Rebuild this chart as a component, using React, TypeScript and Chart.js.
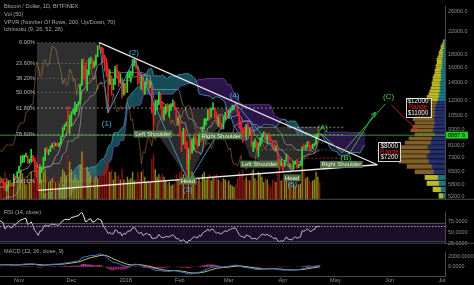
import React, { useEffect, useRef } from 'react';
import { Chart, registerables } from 'chart.js';

Chart.register(...registerables);

const FONT = '"Liberation Sans", Arial, Helvetica, sans-serif';

// ---------- price data: index 0 = 2017-08-30, one entry per day up to 2018-04-22 ----------
const firstOpen = 4570;
const closes = [
  4580, 4740,
  4920, 4590, 4600, 4230, 4400, 4640, 4650, 4320, 4320, 4230,
  4210, 4170, 3870, 3240, 3700, 3700, 3700, 4100, 3910, 3900,
  3630, 3610, 3790, 3680, 3930, 3890, 4200, 4190, 4160, 4340,
  4400, 4410, 4310, 4220, 4320, 4370, 4440, 4610, 4770, 4760,
  4820, 5440, 5650, 5830, 5690, 5760, 5600, 5570, 5710, 6000,
  6010, 6000, 5900, 5510, 5750, 5900, 5780, 5750, 6150, 6130, 6450,
  6750, 7030, 7150, 7380, 7400, 6980, 7120, 7450, 7140, 6600,
  6350, 5900, 6550, 6600, 7280, 7850, 7700, 7780, 8030, 8200,
  8100, 8230, 8100, 8250, 8750, 9300, 9700, 9900, 9850, 9950,
  10850, 10900, 11250, 11600, 11650, 13750, 16850, 16100, 14800, 15000,
  16700, 17150, 16300, 16400, 17600, 19300, 19100, 18900, 17500, 16500,
  15500, 13900, 14500, 13700, 13800, 15800, 15400, 14200, 14500, 12600, 13900,
  13400, 14800, 15100, 15200, 17000, 17100, 16100, 14900, 14400, 14900,
  13200, 13800, 14200, 13600, 13600, 11400, 11200, 11400, 11600, 12800,
  11600, 10900, 11000, 11400, 11200, 11200, 11500, 11800, 11300, 10100, 10200,
  9100, 8850, 9200, 8200, 6900, 7700, 7600, 8250, 8700, 8550,
  8100, 8900, 8550, 9500, 10000, 10200, 11100, 10400, 11150, 11200,
  10450, 9850, 10150, 9700, 9650, 10300, 10600, 10350,
  10950, 11050, 11450, 11500, 11450, 10750, 9900, 9300, 9250, 8800,
  9550, 9150, 9150, 8200, 8250, 8300, 7900, 8200, 8600, 8900,
  8900, 8700, 8900, 8550, 8450, 8150, 7800, 7950, 7100, 6850, 6950,
  6800, 7050, 7450, 6800, 6800, 6600, 6900, 7050, 6770, 6840,
  6950, 7920, 7880, 8000, 8350, 8050, 7900, 8170, 8280, 8850,
  8920, 8888,
];
const highs = [
  4640, 4770,
  4960, 4950, 4700, 4600, 4500, 4680, 4700, 4750, 4390, 4320,
  4360, 4380, 4170, 3920, 3780, 3880, 3780, 4120, 4110, 4040,
  3920, 3760, 3810, 3800, 3970, 3980, 4220, 4280, 4200, 4370,
  4410, 4480, 4440, 4350, 4360, 4440, 4470, 4620, 4870, 4920,
  4880, 5450, 5850, 5860, 5860, 5790, 5780, 5620, 5730, 6080,
  6180, 6090, 6090, 5900, 5770, 5980, 6000, 5860, 6330, 6220, 6470,
  6780, 7400, 7450, 7480, 7600, 7440, 7220, 7850, 7450, 7300,
  6900, 6500, 6750, 6750, 7350, 7950, 8020, 7860, 8080, 8280,
  8380, 8300, 8280, 8330, 8780, 9500, 9750, 9950, 11400, 10600,
  10920, 11150, 11850, 11620, 11900, 13850, 17200, 17300, 16300, 15700,
  17300, 17550, 17300, 16950, 17900, 19400, 19891, 19150, 19000, 17900,
  17400, 15900, 15700, 14900, 14500, 16200, 16400, 15500, 15200, 14600, 14000,
  14000, 15400, 15600, 15500, 17200, 17250, 17100, 16200, 15300, 14950,
  14900, 14100, 14600, 14400, 14300, 13700, 11700, 12000, 12000, 13000,
  12800, 11900, 11400, 11600, 11700, 11600, 11700, 12100, 11900, 11300, 10400,
  10200, 9150, 9450, 9400, 8400, 7900, 8550, 8600, 8750, 9100,
  8550, 8950, 8950, 9550, 10250, 10300, 11100, 11200, 11250, 11800,
  11300, 10900, 10400, 10500, 9900, 10450, 10850, 11050,
  11050, 11200, 11550, 11550, 11700, 11450, 10900, 10100, 9450, 9500,
  9750, 9900, 9500, 9400, 8400, 8600, 8400, 8300, 8700, 9000,
  9150, 9100, 8950, 9050, 8700, 8500, 8250, 8100, 7950, 7300, 7200,
  7050, 7150, 7550, 7450, 6950, 6850, 7050, 7100, 7200, 6900,
  6990, 8050, 8250, 8150, 8400, 8400, 8150, 8200, 8300, 8950,
  9050, 9050,
];
const lows = [
  4530, 4570,
  4730, 4470, 4450, 4130, 4000, 4400, 4520, 4180, 4200, 3990,
  4160, 4080, 3770, 3210, 2980, 3600, 3540, 3690, 3850, 3860,
  3590, 3560, 3600, 3660, 3680, 3870, 3890, 4150, 4030, 4160,
  4290, 4370, 4250, 4200, 4190, 4320, 4350, 4430, 4580, 4730,
  4740, 4810, 5390, 5580, 5460, 5600, 5550, 5120, 5540, 5620,
  5860, 5880, 5640, 5470, 5460, 5700, 5710, 5680, 5720, 6030, 6100,
  6380, 6950, 7000, 7030, 7340, 6960, 6960, 7060, 7060, 6500,
  6160, 5500, 5850, 6430, 6600, 7120, 7600, 7480, 7700, 7970,
  7850, 8090, 8070, 8040, 8200, 8750, 9300, 9600, 9100, 9000,
  9600, 10700, 10600, 10900, 11450, 11650, 13700, 14500, 13900, 13100,
  15000, 16600, 15900, 16000, 16300, 17600, 18800, 18200, 16700, 15500,
  14800, 10800, 13800, 12600, 13200, 13800, 14600, 13600, 14000, 12300, 12600,
  12800, 12900, 14600, 14100, 14900, 16200, 15800, 13800, 14000, 13200,
  12800, 12700, 13800, 12900, 13400, 10800, 9200, 10600, 11100, 11600,
  11200, 10200, 10100, 10700, 10900, 10400, 11000, 11400, 11100, 9900, 9700,
  8800, 7700, 8200, 7900, 6600, 5920, 7200, 7600, 7800, 8200,
  7900, 8100, 8400, 8550, 9400, 9700, 10100, 10150, 10400, 11100,
  10300, 9800, 9600, 9450, 9350, 9400, 10150, 10300,
  10300, 10800, 11050, 11100, 11400, 10600, 9450, 9100, 8350, 8750,
  8600, 8800, 8850, 8050, 7700, 7950, 7800, 7350, 8100, 8350,
  8800, 8500, 8300, 8500, 8400, 7850, 7750, 7750, 6950, 6600, 6800,
  6450, 6750, 7050, 6750, 6650, 6550, 6600, 6900, 6650, 6700,
  6800, 6850, 7800, 7850, 8000, 7900, 7880, 7900, 8100, 8200,
  8650, 8800,
];

// volume (thousand BTC), starting at day index 52 = 2017-10-21
const volumeStart = 52;
const volumes = [
  35, 28, 40, 55, 42, 30, 28, 22, 45, 32, 38,
  45, 60, 52, 40, 30, 45, 35, 55, 42, 70, 65, 85, 70, 40, 55, 60, 45, 35, 38, 42,
  50, 35, 38, 34, 45, 60, 55, 48, 90, 75,
  60, 40, 50, 42, 38, 70, 95, 85, 60, 65, 55, 48, 50, 38, 45, 42, 50, 48, 60, 65,
  70, 90, 55, 60, 40, 55, 45, 48, 40, 60, 40,
  35, 45, 40, 42, 55, 38, 40, 55, 40, 55, 60, 45, 35, 38, 35, 80, 90, 60, 45, 50,
  45, 50, 45, 38, 30, 35, 28, 30, 32, 50, 40,
  55, 70, 50, 55, 85, 100, 65, 55, 48, 40, 38, 42, 35, 50, 55, 40, 45, 50, 38, 45,
  48, 50, 40, 38, 35, 42, 40, 35,
  38, 30, 28, 25, 30, 42, 55, 50, 60, 40, 45, 40, 38, 55, 60, 42, 38, 55, 50, 45,
  35, 42, 40, 30, 25, 40, 38, 35, 55, 60, 38,
  40, 38, 45, 50, 35, 40, 32, 28, 40, 30, 32, 75, 60, 42, 45, 40, 35, 38, 40, 55,
  45, 35,
];

const lastPrice = 8887.9;

// ---------- axes ----------
const X_MIN = 52.15;
const X_MAX = 306.7;
const PRICE_MIN = 5064;
const PRICE_MAX = 27310;
const priceTicks = [26000, 22000, 18000, 16000, 14000, 12000, 10500, 9300, 8100, 7300, 6500, 5800, 5200];
const monthTickDays = [63, 93, 124, 155, 183, 214, 244, 275, 305];
const monthTickLabels = ['Nov', 'Dec', '2018', 'Feb', 'Mar', 'Apr', 'May', 'Jun', 'Jul'];
const rsiTicks = [75, 50, 25];
const macdTicks = [2000, 0];

// ---------- Fibonacci retracement ----------
const fibStartDay = 73.3;
const fibEndDay = 107.5;
const fibExtendDay = 249;
const fibHigh = 19891;
const fibLow = 5920;
const fibRatios = [0, 0.236, 0.382, 0.5, 0.618, 0.786, 1];
const fibLabels = ['0.00%', '23.60%', '38.20%', '50.00%', '61.80%', '78.60%', '100.00%'];

// ---------- drawings ----------
const triUpperDays = [109, 268];
const triUpperPrices = [19891, 6870];
const triLowerDays = [74, 268];
const triLowerPrices = [5500, 6870];

const waveDays = [109, 114, 129, 160, 187, 219];
const wavePrices = [19891, 10800, 17250, 5920, 11700, 6550];
const waveLabels = ['(1)', '(2)', '(3)', '(4)', '(5)'];
const waveLabelDays = [113.2, 128.8, 159.5, 186.3, 219.4];
const waveLabelPrices = [9800, 18130, 5520, 12530, 5750];

const abcDays = [235.9, 247.9, 272.5];
const abcPrices = [9000, 7630, 11670];
const abcLabels = ['(A)', '(B)', '(C)'];
const abcLabelDays = [236.7, 250, 274.4];
const abcLabelPrices = [9450, 7300, 12430];
const greenArrowDays = [251.4, 266.8];
const greenArrowPrices = [7440, 10850];
const redArrowDays = [276, 290.7];
const redArrowPrices = [11570, 9290];

const hs1Days = [137.8, 142.3, 160, 173.2, 189.1];
const hs1Prices = [11222, 8985, 6000, 8985, 11222];
const hs2Days = [189.1, 194.9, 218.3, 233.7, 236];
const hs2Prices = [9560, 7360, 6360, 7990, 9560];

const shoulderTexts = ['Left Shoulder', 'Right Shoulder', 'Head', 'Left Shoulder', 'Head', 'Right Shoulder'];
const shoulderDays = [139.7, 178.7, 159.6, 200.6, 219.2, 247.4];
const shoulderPrices = [8975, 8830, 5960, 6904, 6125, 6887];

const rangeBoxTop = ['$12000', '$8000'];
const rangeBoxBottom = ['$11000', '$7200'];
const rangeBoxDays = [291.3, 274.8];
const rangeBoxPrices = [11340, 7690];

const dashPrices = [9520, 7270, 7825];
const dashFrom = [217.7, 223.4, 197];
const dashTo = [249, 249, 240];
const dashColors = ['rgba(230,230,230,0.7)', 'rgba(225,60,60,0.85)', 'rgba(170,170,170,0.55)'];

// ---------- volume profile (VPVR) ----------
const vpPrices = [
  5500, 5800, 6100, 6400, 6700, 7000, 7300, 7600, 7900, 8200, 8500, 8800,
  9100, 9400, 9700, 10000, 10300, 10600, 10900, 11200, 11500, 11800, 12100, 12400,
  12700, 13000, 13300, 13600, 13900, 14200, 14500, 14800, 15100, 15400, 15700, 16000,
  16300, 16600, 16900, 17200, 17500, 17800, 18100, 18400, 18700, 19000, 19300, 19600,
];
const vpUp = [
  4, 8, 12, 13, 19, 25, 30, 32, 29, 31, 26, 23,
  20, 22, 21, 20, 21, 20, 18, 20, 17, 16, 13, 12,
  10, 10, 9, 8, 8, 8, 8, 7, 6, 6, 6, 6,
  5, 5, 5, 5, 4, 4, 3, 3, 3, 2, 1, 1,
];
const vpDown = [
  2, 4, 6, 7, 11, 13, 16, 18, 15, 17, 14, 13,
  10, 12, 11, 10, 11, 10, 10, 10, 9, 8, 7, 6,
  6, 5, 5, 5, 5, 4, 4, 4, 4, 4, 3, 3,
  3, 3, 3, 2, 2, 2, 2, 1, 1, 1, 1, 0.5,
];
const valueAreaLow = 6550;
const valueAreaHigh = 11900;

// ---------- RSI levels ----------
const rsiUpper = 70;
const rsiLower = 30;
const rsiMark = 63;

const legendLines = [
  'Bitcoin / Dollar, 1D, BITFINEX',
  'Vol (50)',
  'VPVR (Number Of Rows, 200, Up/Down, 70)',
  'Ichimoku (9, 26, 52, 26)',
];

// ---------- colours ----------
const UP = '#37d637';
const DOWN = '#e42626';
const GRID_LINE = '#4a4a4a';
const AXIS_TEXT = '#8e8e8e';

// ---------- derived series ----------
const opens = closes.map((c, i) => (i === 0 ? firstOpen : closes[i - 1]));

function rangeMid(i: number, n: number): number | null {
  if (i < n - 1) return null;
  let h = -Infinity;
  let l = Infinity;
  for (let k = i - n + 1; k <= i; k++) {
    if (highs[k] > h) h = highs[k];
    if (lows[k] < l) l = lows[k];
  }
  return (h + l) / 2;
}

function ema(arr: number[], n: number) {
  const k = 2 / (n + 1);
  const out: number[] = [];
  arr.forEach((v, i) => out.push(i === 0 ? v : v * k + out[i - 1] * (1 - k)));
  return out;
}

const pts = (xs: number[], ys: number[]) => xs.map((x, i) => ({ x, y: ys[i] }));

function baseOptions() {
  return {
    animation: false,
    responsive: false,
    maintainAspectRatio: false,
    devicePixelRatio: 1,
    events: [],
    layout: { padding: 0 },
    plugins: { legend: { display: false }, tooltip: { enabled: false }, title: { display: false } },
    elements: { point: { radius: 0 }, line: { tension: 0 } },
  };
}

function lineDs(label: string, data: any[], color: string, width: number, extra: any = {}) {
  return {
    type: 'line',
    label,
    data,
    borderColor: color,
    borderWidth: width,
    pointRadius: 0,
    fill: false,
    tension: 0,
    ...extra,
  };
}

function drawArrowHead(ctx: CanvasRenderingContext2D, x0: number, y0: number, x1: number, y1: number, color: string) {
  const a = Math.atan2(y1 - y0, x1 - x0);
  const len = 5;
  ctx.save();
  ctx.strokeStyle = color;
  ctx.lineWidth = 1;
  ctx.beginPath();
  ctx.moveTo(x1 - len * Math.cos(a - 0.45), y1 - len * Math.sin(a - 0.45));
  ctx.lineTo(x1, y1);
  ctx.lineTo(x1 - len * Math.cos(a + 0.45), y1 - len * Math.sin(a + 0.45));
  ctx.stroke();
  ctx.restore();
}

const priceOverlay = {
  id: 'priceOverlay',
  afterDatasetsDraw(chart: any) {
    const { ctx } = chart;
    const xs = chart.scales.x;
    const ys = chart.scales.y;
    const X = (d: number) => xs.getPixelForValue(d);
    const Y = (p: number) => ys.getPixelForValue(p);
    ctx.save();
    ctx.textBaseline = 'middle';

    // fib labels
    ctx.font = `5.6px ${FONT}`;
    ctx.textAlign = 'right';
    ctx.fillStyle = '#b4b4b4';
    fibRatios.forEach((r, i) => {
      ctx.fillText(fibLabels[i], X(fibStartDay) - 2, Y(fibHigh - r * (fibHigh - fibLow)));
    });

    // wave / ABC labels
    ctx.textAlign = 'center';
    ctx.font = `8px ${FONT}`;
    ctx.fillStyle = '#3fb8d8';
    waveLabels.forEach((t, i) => ctx.fillText(t, X(waveLabelDays[i]), Y(waveLabelPrices[i])));
    ctx.fillStyle = '#44d444';
    abcLabels.forEach((t, i) => ctx.fillText(t, X(abcLabelDays[i]), Y(abcLabelPrices[i])));

    // shoulder / head boxes
    ctx.font = `6px ${FONT}`;
    shoulderTexts.forEach((t, i) => {
      const w = ctx.measureText(t).width + 3;
      const h = 7;
      const cx = X(shoulderDays[i]);
      const cy = Y(shoulderPrices[i]);
      ctx.fillStyle = 'rgba(86,122,70,0.92)';
      ctx.fillRect(cx - w / 2, cy - h / 2, w, h);
      ctx.fillStyle = '#eeeeee';
      ctx.fillText(t, cx, cy + 0.3);
    });

    // range boxes
    ctx.font = `6.3px ${FONT}`;
    rangeBoxTop.forEach((t, i) => {
      const cx = X(rangeBoxDays[i]);
      const cy = Y(rangeBoxPrices[i]);
      const w = Math.max(ctx.measureText(t).width, ctx.measureText(rangeBoxBottom[i]).width) + 4;
      const h = 19;
      ctx.fillStyle = 'rgba(0,0,0,0.85)';
      ctx.fillRect(cx - w / 2, cy - h / 2, w, h);
      ctx.strokeStyle = '#d8d8d8';
      ctx.lineWidth = 1;
      ctx.strokeRect(Math.round(cx - w / 2) + 0.5, Math.round(cy - h / 2) + 0.5, Math.round(w), h);
      ctx.fillStyle = '#f2f2f2';
      ctx.fillText(t, cx, cy - 5.8);
      ctx.fillStyle = '#e32222';
      ctx.fillText('Range', cx, cy);
      ctx.fillStyle = '#f2f2f2';
      ctx.fillText(rangeBoxBottom[i], cx, cy + 5.8);
    });

    // arrow heads
    chart.data.datasets.forEach((ds: any, idx: number) => {
      if (ds.label !== 'greenArrow' && ds.label !== 'redArrow') return;
      const meta = chart.getDatasetMeta(idx);
      const p0 = meta.data[0];
      const p1 = meta.data[meta.data.length - 1];
      drawArrowHead(ctx, p0.x, p0.y, p1.x, p1.y, ds.borderColor);
    });
    ctx.restore();
  },
  afterDraw(chart: any) {
    const { ctx, chartArea } = chart;
    const ys = chart.scales.y;
    ctx.save();
    ctx.strokeStyle = GRID_LINE;
    ctx.lineWidth = 1;
    ctx.beginPath();
    ctx.moveTo(0, chartArea.bottom - 0.5);
    ctx.lineTo(chart.width, chartArea.bottom - 0.5);
    ctx.stroke();
    const py = ys.getPixelForValue(lastPrice);
    ctx.fillStyle = '#1fcf1f';
    ctx.fillRect(chartArea.right + 1, py - 3.5, 22, 7);
    ctx.fillStyle = '#0a0a0a';
    ctx.font = `5.6px ${FONT}`;
    ctx.textAlign = 'left';
    ctx.textBaseline = 'middle';
    ctx.fillText(lastPrice.toFixed(1), chartArea.right + 3, py + 0.3);
    ctx.restore();
  },
};

const paneSeparator = {
  id: 'paneSeparator',
  afterDraw(chart: any) {
    const { ctx, chartArea } = chart;
    ctx.save();
    ctx.strokeStyle = GRID_LINE;
    ctx.lineWidth = 1;
    ctx.beginPath();
    ctx.moveTo(0, chartArea.bottom - 0.5);
    ctx.lineTo(chart.width, chartArea.bottom - 0.5);
    ctx.stroke();
    ctx.restore();
  },
};

function rightAxis(extra: any) {
  return {
    position: 'right',
    grid: { display: false, drawTicks: false },
    border: { display: true, color: GRID_LINE, width: 1 },
    afterFit: (s: any) => {
      s.width = 29;
    },
    ...extra,
  };
}

function buildPriceConfig() {
  const candleColors = closes.map((c, i) => (c >= opens[i] ? UP : DOWN));
  const bodies = closes.map((c, i) => ({ x: i, y: [opens[i], c] }));
  const wicks = closes.map((c, i) => ({ x: i, y: [lows[i], highs[i]] }));
  const volPts = volumes.map((v, i) => ({ x: volumeStart + i, y: v }));
  const volColors = volumes.map((_, i) =>
    candleColors[volumeStart + i] === UP ? 'rgba(165,160,35,0.85)' : 'rgba(150,22,22,0.9)'
  );

  const convPts: any[] = [];
  const basePts: any[] = [];
  const lagPts: any[] = [];
  const spanAPts: any[] = [];
  const spanBPts: any[] = [];
  closes.forEach((c, i) => {
    const cv = rangeMid(i, 9);
    const bs = rangeMid(i, 26);
    if (cv !== null) convPts.push({ x: i, y: cv });
    if (bs !== null) basePts.push({ x: i, y: bs });
    if (i >= 26) lagPts.push({ x: i - 26, y: c });
    const sb = rangeMid(i, 52);
    if (sb !== null && cv !== null && bs !== null) {
      spanAPts.push({ x: i + 26, y: (cv + bs) / 2 });
      spanBPts.push({ x: i + 26, y: sb });
    }
  });

  const fibLines = fibRatios.map((r, i) => {
    const p = fibHigh - r * (fibHigh - fibLow);
    const extend = r === 0.618 || r === 0.786;
    return lineDs('fib' + fibLabels[i], [{ x: fibStartDay, y: p }, { x: extend ? fibExtendDay : fibEndDay, y: p }],
      extend ? 'rgba(215,215,215,0.7)' : 'rgba(200,200,200,0.35)', 0.8, { borderDash: [2, 2], order: 18 });
  });
  const dashLines = dashPrices.map((p, i) =>
    lineDs('dash' + i, [{ x: dashFrom[i], y: p }, { x: dashTo[i], y: p }], dashColors[i], 0.8, { borderDash: [2, 2], order: 18 })
  );

  const datasets: any[] = [
    {
      type: 'line', label: 'fibZone',
      data: [
        { x: fibStartDay, y: fibHigh }, { x: fibEndDay, y: fibHigh },
        { x: fibEndDay, y: fibLow }, { x: fibStartDay, y: fibLow }, { x: fibStartDay, y: fibHigh },
      ],
      fill: 'shape', backgroundColor: 'rgba(255,255,255,0.19)', borderWidth: 0, pointRadius: 0, order: 30,
    },
    {
      type: 'line', label: 'hs1', data: pts([...hs1Days, hs1Days[0]], [...hs1Prices, hs1Prices[0]]),
      fill: 'shape', backgroundColor: 'rgba(255,255,255,0.17)', borderWidth: 0, pointRadius: 0, order: 29,
    },
    {
      type: 'line', label: 'hs2', data: pts([...hs2Days, hs2Days[0]], [...hs2Prices, hs2Prices[0]]),
      fill: 'shape', backgroundColor: 'rgba(255,255,255,0.17)', borderWidth: 0, pointRadius: 0, order: 29,
    },
    lineDs('spanA', spanAPts, 'rgba(70,175,195,0.9)', 0.8, { order: 25 }),
    lineDs('spanB', spanBPts, 'rgba(125,70,185,0.9)', 0.8, {
      order: 25,
      fill: { target: '-1', above: 'rgba(85,40,145,0.5)', below: 'rgba(38,150,172,0.5)' },
    }),
    {
      type: 'bar', label: 'volume', data: volPts, yAxisID: 'yVol', backgroundColor: volColors,
      grouped: false, barPercentage: 0.8, categoryPercentage: 1, order: 22, clip: 0,
    },
    lineDs('conversion', convPts, 'rgba(240,170,205,0.75)', 0.8, { order: 20 }),
    lineDs('base', basePts, 'rgba(200,200,215,0.6)', 0.8, { order: 20 }),
    lineDs('lagging', lagPts, 'rgba(215,150,80,0.55)', 0.8, { order: 20 }),
    ...fibLines,
    ...dashLines,
    lineDs('lastPrice', [{ x: X_MIN, y: lastPrice }, { x: X_MAX, y: lastPrice }], 'rgba(55,175,55,0.85)', 1, { order: 17 }),
    {
      type: 'bar', label: 'wicks', data: wicks, backgroundColor: candleColors, grouped: false,
      barThickness: 0.9, order: 6, clip: 0,
    },
    {
      type: 'bar', label: 'bodies', data: bodies, backgroundColor: candleColors, grouped: false,
      barPercentage: 0.72, categoryPercentage: 1, minBarLength: 0.8, order: 5, clip: 0,
    },
    lineDs('triUpper', pts(triUpperDays, triUpperPrices), 'rgba(245,245,245,0.95)', 1.3, { order: 3 }),
    lineDs('triLower', pts(triLowerDays, triLowerPrices), 'rgba(245,245,245,0.95)', 1.3, { order: 3 }),
    lineDs('wave', pts(waveDays, wavePrices), 'rgba(55,170,205,0.95)', 0.9, { order: 3 }),
    lineDs('abc', pts(abcDays, abcPrices), 'rgba(65,200,65,0.95)', 0.9, { order: 2 }),
    lineDs('greenArrow', pts(greenArrowDays, greenArrowPrices), 'rgba(65,200,65,0.95)', 0.9, { order: 2 }),
    lineDs('redArrow', pts(redArrowDays, redArrowPrices), 'rgba(215,45,45,0.95)', 0.9, { order: 2 }),
  ];

  return {
    type: 'line',
    data: { datasets },
    options: {
      ...baseOptions(),
      scales: {
        x: { type: 'linear', min: X_MIN, max: X_MAX, display: false, offset: false },
        y: rightAxis({
          type: 'logarithmic',
          min: PRICE_MIN,
          max: PRICE_MAX,
          afterBuildTicks: (s: any) => {
            s.ticks = priceTicks.map((v) => ({ value: v }));
          },
          ticks: {
            color: AXIS_TEXT, padding: 3, autoSkip: false,
            font: { size: 5.4, family: FONT },
            callback: (v: any) => Number(v).toFixed(1),
          },
        }),
        yVol: { type: 'linear', display: false, min: 0, max: 380 },
      },
    },
    plugins: [priceOverlay],
  };
}

function buildVpvrConfig() {
  const inVA = (p: number) => p >= valueAreaLow && p <= valueAreaHigh;
  return {
    type: 'bar',
    data: {
      datasets: [
        {
          label: 'down', data: pts(vpDown, vpPrices),
          backgroundColor: vpPrices.map((p) => (inVA(p) ? 'rgba(40,52,120,0.9)' : 'rgba(30,140,150,0.85)')),
          barThickness: 'flex', barPercentage: 0.72, categoryPercentage: 1,
        },
        {
          label: 'up', data: pts(vpUp, vpPrices),
          backgroundColor: vpPrices.map((p) => (inVA(p) ? 'rgba(150,112,48,0.85)' : 'rgba(210,205,40,0.9)')),
          barThickness: 'flex', barPercentage: 0.72, categoryPercentage: 1,
        },
      ],
    },
    options: {
      ...baseOptions(),
      indexAxis: 'y',
      scales: {
        x: { type: 'linear', min: 0, max: 100, reverse: true, display: false, stacked: true },
        y: { type: 'logarithmic', min: PRICE_MIN, max: PRICE_MAX, display: false, stacked: true, offset: false },
      },
    },
  };
}

function buildRsiConfig() {
  const rsi: { x: number; y: number }[] = [];
  let ag = 0;
  let al = 0;
  for (let i = 1; i <= 14; i++) {
    const d = closes[i] - closes[i - 1];
    if (d > 0) ag += d;
    else al -= d;
  }
  ag /= 14;
  al /= 14;
  rsi.push({ x: 14, y: 100 - 100 / (1 + ag / al) });
  for (let i = 15; i < closes.length; i++) {
    const d = closes[i] - closes[i - 1];
    ag = (ag * 13 + Math.max(d, 0)) / 14;
    al = (al * 13 + Math.max(-d, 0)) / 14;
    rsi.push({ x: i, y: al === 0 ? 100 : 100 - 100 / (1 + ag / al) });
  }
  return {
    type: 'line',
    data: {
      datasets: [
        lineDs('rsiLower', [{ x: X_MIN, y: rsiLower }, { x: X_MAX, y: rsiLower }], 'rgba(130,125,150,0.6)', 0.8),
        lineDs('rsiUpper', [{ x: X_MIN, y: rsiUpper }, { x: X_MAX, y: rsiUpper }], 'rgba(150,145,170,0.7)', 0.8, {
          fill: '-1', backgroundColor: 'rgba(90,45,140,0.3)',
        }),
        lineDs('rsiMark', [{ x: X_MIN, y: rsiMark }, { x: X_MAX, y: rsiMark }], 'rgba(235,235,235,0.85)', 1, {
          borderDash: [1.5, 1.5],
        }),
        lineDs('rsi', rsi, '#f2f2f2', 1),
      ],
    },
    options: {
      ...baseOptions(),
      layout: { padding: { bottom: 4 } },
      scales: {
        x: { type: 'linear', min: X_MIN, max: X_MAX, display: false },
        y: rightAxis({
          type: 'linear', min: 25, max: 94.6,
          afterBuildTicks: (s: any) => {
            s.ticks = rsiTicks.map((v) => ({ value: v }));
          },
          ticks: {
            color: AXIS_TEXT, padding: 3, autoSkip: false,
            font: { size: 5.4, family: FONT },
            callback: (v: any) => Number(v).toFixed(4),
          },
        }),
      },
    },
    plugins: [paneSeparator],
  };
}

function buildMacdConfig() {
  const e12 = ema(closes, 12);
  const e26 = ema(closes, 26);
  const macd = closes.map((_, i) => e12[i] - e26[i]);
  const signal = ema(macd, 9);
  const macdPts = macd.map((v, i) => ({ x: i, y: v }));
  const signalPts = signal.map((v, i) => ({ x: i, y: v }));
  const histPts = macd.map((v, i) => ({ x: i, y: v - signal[i] }));
  return {
    type: 'line',
    data: {
      datasets: [
        {
          type: 'bar', label: 'hist', data: histPts,
          backgroundColor: histPts.map((p) => (p.y >= 0 ? 'rgba(215,70,150,0.85)' : 'rgba(180,40,120,0.85)')),
          grouped: false, barPercentage: 0.9, categoryPercentage: 1, order: 3, clip: 0,
        },
        lineDs('macd', macdPts, '#3d78da', 1, { order: 1 }),
        lineDs('signal', signalPts, '#c8c86c', 1, { order: 2 }),
      ],
    },
    options: {
      ...baseOptions(),
      scales: {
        x: {
          type: 'linear', min: X_MIN, max: X_MAX, position: 'bottom', offset: false,
          grid: { display: false, drawTicks: false },
          border: { display: true, color: GRID_LINE, width: 1 },
          afterBuildTicks: (s: any) => {
            s.ticks = monthTickDays.map((v) => ({ value: v }));
          },
          afterFit: (s: any) => {
            s.height = 9;
          },
          ticks: {
            color: AXIS_TEXT, padding: 1.5, autoSkip: false, maxRotation: 0,
            font: { size: 5.6, family: FONT },
            callback: (v: any) => {
              const k = monthTickDays.indexOf(Number(v));
              return k >= 0 ? monthTickLabels[k] : '';
            },
          },
        },
        y: rightAxis({
          type: 'linear', min: -1857, max: 2905,
          afterBuildTicks: (s: any) => {
            s.ticks = macdTicks.map((v) => ({ value: v }));
          },
          ticks: {
            color: AXIS_TEXT, padding: 3, autoSkip: false,
            font: { size: 5.4, family: FONT },
            callback: (v: any) => Number(v).toFixed(4),
          },
        }),
      },
    },
  };
}

export default function App() {
  const vpRef = useRef<HTMLCanvasElement | null>(null);
  const priceRef = useRef<HTMLCanvasElement | null>(null);
  const rsiRef = useRef<HTMLCanvasElement | null>(null);
  const macdRef = useRef<HTMLCanvasElement | null>(null);

  useEffect(() => {
    const charts: Chart[] = [];
    if (vpRef.current) charts.push(new Chart(vpRef.current, buildVpvrConfig() as any));
    if (priceRef.current) charts.push(new Chart(priceRef.current, buildPriceConfig() as any));
    if (rsiRef.current) charts.push(new Chart(rsiRef.current, buildRsiConfig() as any));
    if (macdRef.current) charts.push(new Chart(macdRef.current, buildMacdConfig() as any));
    return () => {
      charts.forEach((c) => c.destroy());
    };
  }, []);

  const textStyle: React.CSSProperties = {
    position: 'absolute',
    color: '#a9a9a9',
    fontSize: '5.6px',
    lineHeight: '7.8px',
    fontFamily: FONT,
    whiteSpace: 'nowrap',
    pointerEvents: 'none',
  };

  return (
    <div
      style={{
        position: 'fixed', left: 0, top: 0, width: 474, height: 285,
        background: '#000', overflow: 'hidden',
      }}
    >
      <canvas ref={vpRef} width={100} height={206} style={{ position: 'absolute', left: 345, top: 0 }} />
      <canvas ref={priceRef} width={474} height={206} style={{ position: 'absolute', left: 0, top: 0 }} />
      <canvas ref={rsiRef} width={474} height={44} style={{ position: 'absolute', left: 0, top: 206 }} />
      <canvas ref={macdRef} width={474} height={39} style={{ position: 'absolute', left: 0, top: 246 }} />
      <div style={{ ...textStyle, left: 4, top: 3 }}>
        {legendLines.map((l) => (
          <div key={l}>{l}</div>
        ))}
      </div>
      <div style={{ ...textStyle, left: 4, top: 209 }}>RSI (14, close)</div>
      <div style={{ ...textStyle, left: 4, top: 248 }}>MACD (12, 26, close, 9)</div>
    </div>
  );
}
